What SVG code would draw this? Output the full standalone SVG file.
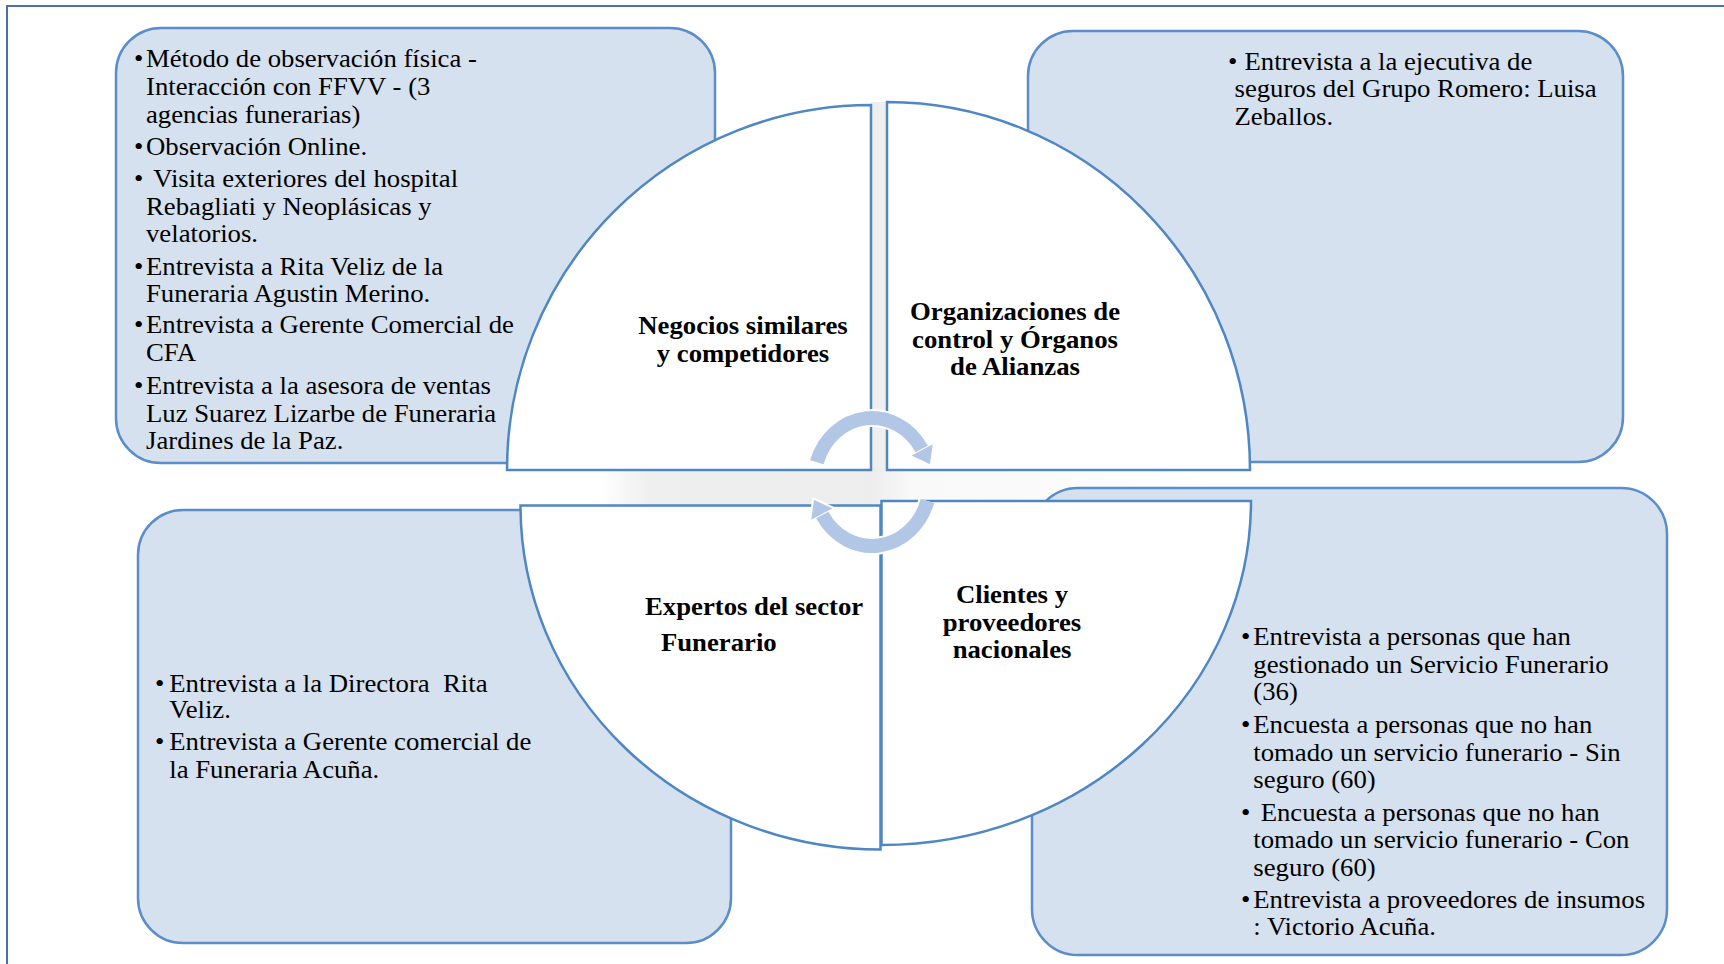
<svg xmlns="http://www.w3.org/2000/svg" width="1724" height="964" viewBox="0 0 1724 964">
<defs>
<style>
.box{fill:#d5e1ee;stroke:#5b8dcb;stroke-width:2.5}
.q{fill:#ffffff;stroke:#4f86c4;stroke-width:2.5;stroke-linejoin:miter}
.t{font-family:"Liberation Serif","Times New Roman",serif;font-size:24.3px;fill:#000}
.b{font-family:"Liberation Serif","Times New Roman",serif;font-size:24.3px;font-weight:bold;fill:#000}
.arcw{fill:none;stroke:#ffffff;stroke-width:18}
.arc{fill:none;stroke:#b2c7e6;stroke-width:14}
.head{fill:#b2c7e6;stroke:#ffffff;stroke-width:2;stroke-linejoin:miter}
</style>
<linearGradient id="wm" x1="600" y1="0" x2="1220" y2="0" gradientUnits="userSpaceOnUse">
<stop offset="0" stop-color="#ededed" stop-opacity="0"/>
<stop offset="0.08" stop-color="#ededed" stop-opacity="0.9"/>
<stop offset="0.44" stop-color="#ededed" stop-opacity="1"/>
<stop offset="0.5" stop-color="#ededed" stop-opacity="0.35"/>
<stop offset="0.65" stop-color="#ededed" stop-opacity="0.3"/>
<stop offset="1" stop-color="#ededed" stop-opacity="0"/>
</linearGradient>
</defs>
<rect x="0" y="0" width="1724" height="964" fill="#ffffff"/>
<path d="M7 964 V6 H1724" fill="none" stroke="#4a72a8" stroke-width="2"/>
<g id="watermark">
<rect x="871" y="102" width="16" height="370" fill="#efefef"/>
<rect x="600" y="468" width="620" height="40" fill="url(#wm)"/>
</g>

<g id="box-negocios">
<rect class="box" x="116" y="28" width="599" height="435" rx="45"/>
<text class="t" transform="translate(146 0) scale(1.1 1)">
<tspan x="-10.9" y="67.3">•</tspan><tspan x="0" y="67.3">Método de observación física -</tspan>
<tspan x="0" y="95">Interacción con FFVV - (3</tspan>
<tspan x="0" y="122.7">agencias funerarias)</tspan>
<tspan x="-10.9" y="155">•</tspan><tspan x="0" y="155">Observación Online.</tspan>
<tspan x="-10.9" y="187.3">•</tspan><tspan x="6.6" y="187.3">Visita exteriores del hospital</tspan>
<tspan x="0" y="215">Rebagliati y Neoplásicas y</tspan>
<tspan x="0" y="242.3">velatorios.</tspan>
<tspan x="-10.9" y="274.6">•</tspan><tspan x="0" y="274.6">Entrevista a Rita Veliz de la</tspan>
<tspan x="0" y="302.5">Funeraria Agustin Merino.</tspan>
<tspan x="-10.9" y="333.5">•</tspan><tspan x="0" y="333.5">Entrevista a Gerente Comercial de</tspan>
<tspan x="0" y="361.5">CFA</tspan>
<tspan x="-10.9" y="394">•</tspan><tspan x="0" y="394">Entrevista a la asesora de ventas</tspan>
<tspan x="0" y="421.7">Luz Suarez Lizarbe de Funeraria</tspan>
<tspan x="0" y="449.3">Jardines de la Paz.</tspan>
</text>
</g>

<g id="box-organizaciones">
<rect class="box" x="1028" y="31" width="595" height="431" rx="45"/>
<text class="t" transform="translate(1234.5 0) scale(1.1 1)">
<tspan x="-5.9" y="70">•</tspan><tspan x="9.1" y="70">Entrevista a la ejecutiva de</tspan>
<tspan x="0" y="97.5">seguros del Grupo Romero: Luisa</tspan>
<tspan x="0" y="125">Zeballos.</tspan>
</text>
</g>

<g id="box-expertos">
<rect class="box" x="138" y="510" width="593" height="433" rx="45"/>
<text class="t" transform="translate(169.3 0) scale(1.1 1)">
<tspan x="-13" y="691.7">•</tspan><tspan x="0" y="691.7">Entrevista a la Directora&#160; Rita</tspan>
<tspan x="0" y="718.3">Veliz.</tspan>
<tspan x="-13" y="750">•</tspan><tspan x="0" y="750">Entrevista a Gerente comercial de</tspan>
<tspan x="0" y="778.3">la Funeraria Acuña.</tspan>
</text>
</g>

<g id="box-clientes">
<rect class="box" x="1032" y="488" width="635" height="467" rx="46"/>
<text class="t" transform="translate(1253.3 0) scale(1.1 1)">
<tspan x="-11.2" y="645">•</tspan><tspan x="0" y="645">Entrevista a personas que han</tspan>
<tspan x="0" y="673.3">gestionado un Servicio Funerario</tspan>
<tspan x="0" y="700.5">(36)</tspan>
<tspan x="-11.2" y="733.3">•</tspan><tspan x="0" y="733.3">Encuesta a personas que no han</tspan>
<tspan x="0" y="761.3">tomado un servicio funerario - Sin</tspan>
<tspan x="0" y="788.5">seguro (60)</tspan>
<tspan x="-11.2" y="820.7">•</tspan><tspan x="6.7" y="820.7">Encuesta a personas que no han</tspan>
<tspan x="0" y="848.3">tomado un servicio funerario - Con</tspan>
<tspan x="0" y="875.7">seguro (60)</tspan>
<tspan x="-11.2" y="907.7">•</tspan><tspan x="0" y="907.7">Entrevista a proveedores de insumos</tspan>
<tspan x="0" y="935">: Victorio Acuña.</tspan>
</text>
</g>

<g id="quad-negocios">
<path class="q" d="M871 470 L507 470 A364 365 0 0 1 871 105 Z"/>
<text class="b" text-anchor="middle" transform="translate(743 0) scale(1.1 1)"><tspan x="0" y="334">Negocios similares</tspan><tspan x="0" y="362">y competidores</tspan></text>
</g>
<g id="quad-organizaciones">
<path class="q" d="M887 470 L887 102 A363 368 0 0 1 1250 470 Z"/>
<text class="b" text-anchor="middle" transform="translate(1015 0) scale(1.1 1)"><tspan x="0" y="320.5">Organizaciones de</tspan><tspan x="0" y="347.7">control y Órganos</tspan><tspan x="0" y="375">de Alianzas</tspan></text>
</g>
<g id="quad-expertos">
<path class="q" d="M880.5 505.5 L520.5 505.5 A360 344 0 0 0 880.5 849.5 Z"/>
<text class="b" transform="translate(645 0) scale(1.1 1)"><tspan x="0" y="615">Expertos del sector</tspan><tspan x="14.5" y="650.7">Funerario</tspan></text>
</g>
<g id="quad-clientes">
<path class="q" d="M881.5 501 L1251 501 A369.5 344 0 0 1 881.5 845 Z"/>
<text class="b" text-anchor="middle" transform="translate(1012 0) scale(1.1 1)"><tspan x="0" y="603.3">Clientes y</tspan><tspan x="0" y="630.7">proveedores</tspan><tspan x="0" y="658.3">nacionales</tspan></text>
</g>

<g id="connectors">
<path class="arcw" d="M816.8 462.2 A58 64 0 0 1 921.7 449"/>
<path class="arcw" d="M927.4 501 A58 64 0 0 1 822.3 515"/>
<polygon class="head" points="934,442.3 909.4,455.7 930.8,465.7"/>
<polygon class="head" points="834.6,508.3 810,521.7 813.2,498.3"/>
<path class="arc" d="M816.8 462.2 A58 64 0 0 1 921.7 449"/>
<path class="arc" d="M927.4 501 A58 64 0 0 1 822.3 515"/>
</g>
</svg>
